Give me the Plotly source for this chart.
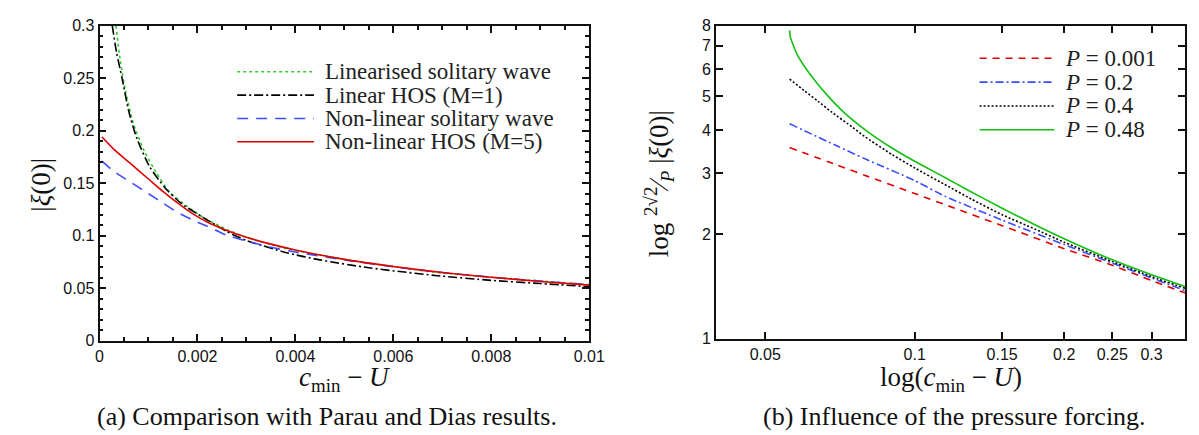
import plotly.graph_objects as go

# ---- (a) comparison with Parau and Dias (x in units of 1e-3) ----
lin_sol_x = [0.335, 0.42, 0.52, 0.69, 0.92, 1.16, 1.43, 1.79, 2.13, 2.6, 3.0, 3.84, 5.0, 6.85, 8.0, 9.0, 10.0]
lin_sol_y = [0.300, 0.268, 0.240, 0.207, 0.180, 0.160, 0.1415, 0.128, 0.117, 0.106, 0.0985, 0.0875, 0.0775, 0.0652, 0.0605, 0.057, 0.0535]

lin_hos_x = [0.26, 0.35, 0.46, 0.6, 0.76, 1.02, 1.33, 1.66, 2.13, 2.6, 3.0, 3.84, 4.5, 5.5, 6.85, 8.0, 9.0, 10.0]
lin_hos_y = [0.300, 0.274, 0.250, 0.218, 0.193, 0.166, 0.146, 0.131, 0.117, 0.104, 0.0955, 0.0836, 0.077, 0.0695, 0.0622, 0.0575, 0.0545, 0.0515]

nl_sol_x = [0.05, 0.3, 0.6, 1.0, 1.3, 1.6, 1.9, 2.2, 2.6, 3.0, 3.5, 4.0, 5.0, 6.0, 7.0, 8.0, 9.0, 10.0]
nl_sol_y = [0.171, 0.161, 0.152, 0.140, 0.131, 0.122, 0.115, 0.109, 0.1005, 0.095, 0.089, 0.0845, 0.077, 0.0705, 0.065, 0.0605, 0.0568, 0.0535]

nl_hos_x = [0.05, 0.3, 0.6, 1.0, 1.3, 1.6, 1.9, 2.2, 2.6, 3.0, 3.5, 4.0, 5.0, 6.0, 7.0, 8.0, 9.0, 10.0]
nl_hos_y = [0.194, 0.182, 0.170, 0.154, 0.142, 0.131, 0.121, 0.113, 0.105, 0.0985, 0.092, 0.0865, 0.0775, 0.0707, 0.065, 0.0605, 0.0565, 0.053]

# ---- (b) influence of the pressure forcing ----
p001_x = [0.056, 0.07, 0.08, 0.1, 0.12, 0.15, 0.2, 0.25, 0.3, 0.351]
p001_y = [3.56, 3.165, 2.95, 2.624, 2.385, 2.12, 1.82, 1.63, 1.473, 1.355]

p02_x = [0.056, 0.07, 0.08, 0.1, 0.1148, 0.12, 0.15, 0.2, 0.25, 0.3, 0.351]
p02_y = [4.17, 3.59, 3.29, 2.86, 2.58, 2.51, 2.20, 1.87, 1.654, 1.498, 1.376]

p04_x = [0.056, 0.06, 0.064, 0.068, 0.075, 0.0791, 0.09, 0.1, 0.1148, 0.13, 0.15, 0.175, 0.2, 0.25, 0.3, 0.351]
p04_y = [5.61, 5.19, 4.83, 4.51, 4.07, 3.84, 3.40, 3.11, 2.79, 2.53, 2.28, 2.07, 1.90, 1.67, 1.512, 1.398]

p048_x = [0.056, 0.0562, 0.057, 0.058, 0.06, 0.063, 0.067, 0.072, 0.08, 0.09, 0.1, 0.115, 0.127, 0.15, 0.175, 0.2, 0.25, 0.3, 0.351]
p048_y = [7.75, 7.4, 7.0, 6.6, 6.1, 5.55, 5.0, 4.5, 3.98, 3.55, 3.25, 2.92, 2.70, 2.38, 2.13, 1.945, 1.69, 1.53, 1.414]

W, H = 1199, 435
SERIF = "Liberation Serif"
SANS = "Liberation Sans"

GREEN_A = "#33cc33"
GREEN_B = "#11c011"
RED = "#e00000"
BLUE = "#3a4dff"
BLACK = "#000000"


def px(x):
    return x / W


def py(y):
    return 1 - y / H


fig = go.Figure()

left_series = [
    (lin_sol_x, lin_sol_y, GREEN_A, "dot", "Linearised solitary wave"),
    (lin_hos_x, lin_hos_y, BLACK, "9px,3px,2px,3px", "Linear HOS (M=1)"),
    (nl_sol_x, nl_sol_y, BLUE, "11px,8px", "Non-linear solitary wave"),
    (nl_hos_x, nl_hos_y, RED, "solid", "Non-linear HOS (M=5)"),
]
for xs, ys, col, dash, name in left_series:
    fig.add_trace(go.Scatter(
        x=[v * 1e-3 for v in xs], y=ys, mode="lines", name=name,
        line=dict(color=col, dash=dash, width=1.6, shape="spline", smoothing=0.6),
        xaxis="x", yaxis="y", showlegend=False,
    ))

right_series = [
    (p001_x, p001_y, RED, "7px,6px", "<i>P</i> = 0.001"),
    (p02_x, p02_y, BLUE, "8px,3px,2px,3px", "<i>P</i> = 0.2"),
    (p04_x, p04_y, BLACK, "2px,2px", "<i>P</i> = 0.4"),
    (p048_x, p048_y, GREEN_B, "solid", "<i>P</i> = 0.48"),
]
for xs, ys, col, dash, name in right_series:
    fig.add_trace(go.Scatter(
        x=xs, y=ys, mode="lines", name=name,
        line=dict(color=col, dash=dash, width=1.6, shape="spline", smoothing=0.6),
        xaxis="x2", yaxis="y2", showlegend=False,
    ))

shapes = []
annotations = []

# hand-placed legends, one sample line per entry
for i, (_, _, col, dash, name) in enumerate(left_series):
    yy = 58 + i * 24.3
    shapes.append(dict(type="line", xref="paper", yref="paper",
                       x0=px(229), x1=px(307), y0=py(yy), y1=py(yy),
                       line=dict(color=col, dash=dash, width=1.6)))
    annotations.append(dict(text=name, xref="paper", yref="paper", x=px(316), y=py(yy),
                            xanchor="left", yanchor="middle", showarrow=False,
                            font=dict(family=SERIF, size=23, color="#222")))

for i, (_, _, col, dash, name) in enumerate(right_series):
    yy = 44 + i * 24.8
    shapes.append(dict(type="line", xref="paper", yref="paper",
                       x0=px(984), x1=px(1060), y0=py(yy), y1=py(yy),
                       line=dict(color=col, dash=dash, width=1.6)))
    annotations.append(dict(text=name, xref="paper", yref="paper", x=px(1069), y=py(yy),
                            xanchor="left", yanchor="middle", showarrow=False,
                            font=dict(family=SERIF, size=23, color="#222")))

# axis titles and captions
title_font = dict(family=SERIF, size=27, color="#111")
annotations += [
    dict(text="|<i>ξ</i>(0)|", x=px(30), y=py(175), textangle=-90, font=title_font),
    dict(text="<i>c</i><sub>min</sub> − <i>U</i>", x=px(338), y=py(378), font=title_font),
    dict(text="log <sup>2√2</sup>⁄<sub><i>P</i></sub> |<i>ξ</i>(0)|", x=px(658), y=py(175),
         textangle=-90, font=title_font),
    dict(text="log(<i>c</i><sub>min</sub> − <i>U</i>)", x=px(955), y=py(378), font=title_font),
    dict(text="(a) Comparison with Parau and Dias results.", x=px(320), y=py(417),
         font=dict(family=SERIF, size=26, color="#111")),
    dict(text="(b) Influence of the pressure forcing.", x=px(958), y=py(417),
         font=dict(family=SERIF, size=26, color="#111")),
]
for a in annotations[-6:]:
    a.update(xref="paper", yref="paper", xanchor="center", yanchor="middle", showarrow=False)

tick_font = dict(family=SANS, size=16, color="#111")
axis_common = dict(showgrid=False, zeroline=False, showline=True, linecolor="#111",
                   linewidth=1.8, mirror="ticks", ticks="inside", ticklen=7,
                   tickcolor="#111", tickwidth=1.5, tickfont=tick_font)

fig.update_layout(
    width=W, height=H,
    margin=dict(l=0, r=0, t=0, b=0),
    plot_bgcolor="white", paper_bgcolor="white",
    showlegend=False,
    xaxis=dict(domain=[px(89), px(587)], range=[0, 0.01], anchor="y",
               tickvals=[0, 0.002, 0.004, 0.006, 0.008, 0.01],
               ticktext=["0", "0.002", "0.004", "0.006", "0.008", "0.01"],
               minor=dict(dtick=0.0005, ticks="inside", ticklen=4, tickcolor="#111"),
               **axis_common),
    yaxis=dict(domain=[py(338), py(10)], range=[0, 0.3], anchor="x",
               tickvals=[0, 0.05, 0.1, 0.15, 0.2, 0.25, 0.3],
               ticktext=["0", "0.05", "0.1", "0.15", "0.2", "0.25", "0.3"],
               minor=dict(dtick=0.01, ticks="inside", ticklen=4, tickcolor="#111"),
               **axis_common),
    xaxis2=dict(domain=[px(716), px(1193)], type="log", range=[-1.4, -0.4554], anchor="y2",
                tickvals=[0.05, 0.1, 0.15, 0.2, 0.25, 0.3],
                ticktext=["0.05", "0.1", "0.15", "0.2", "0.25", "0.3"],
                **axis_common),
    yaxis2=dict(domain=[py(336), py(10)], type="log", range=[0, 0.90309], anchor="x2",
                tickvals=[1, 2, 3, 4, 5, 6, 7, 8],
                ticktext=["1", "2", "3", "4", "5", "6", "7", "8"],
                **axis_common),
    shapes=shapes,
    annotations=annotations,
)

fig.write_html("out.html")
